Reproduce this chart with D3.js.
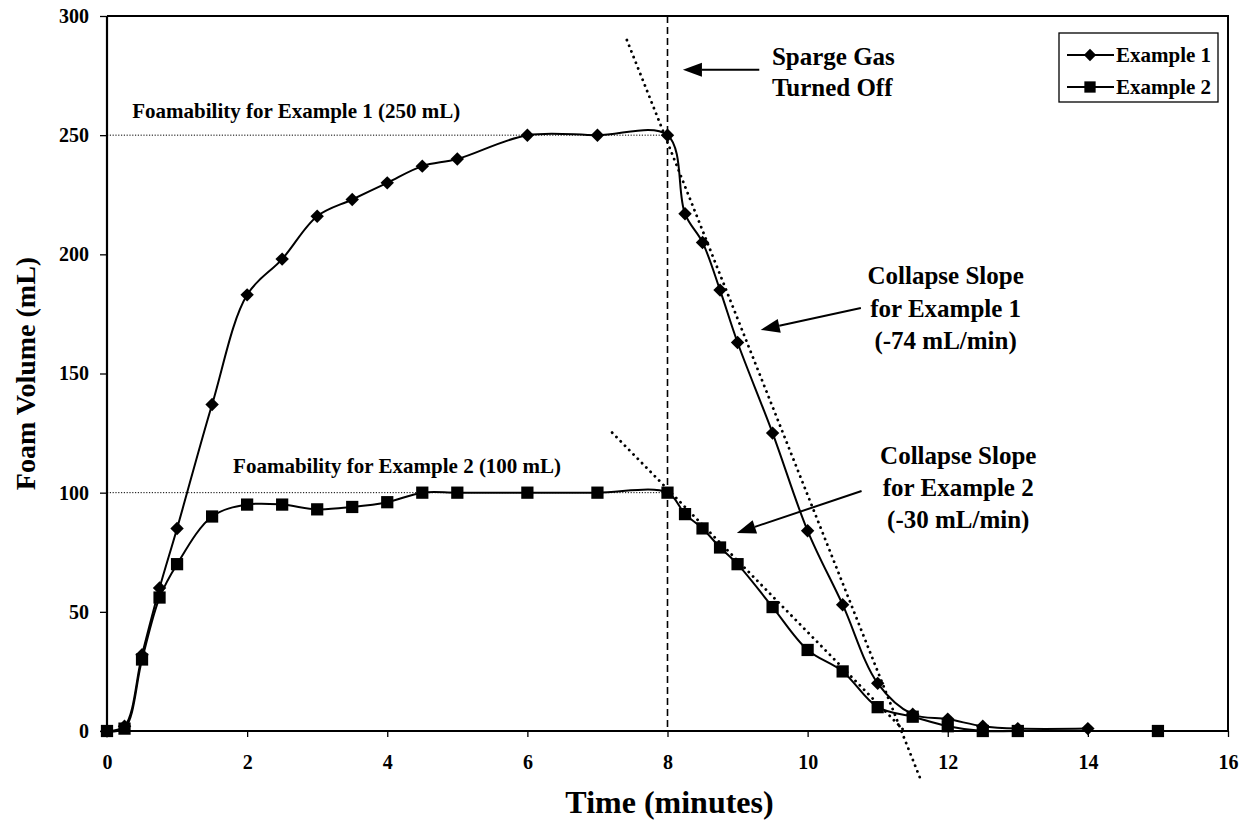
<!DOCTYPE html>
<html>
<head>
<meta charset="utf-8">
<script src="https://cdn.jsdelivr.net/npm/d3@7"></script>
<style>
  html, body { margin: 0; padding: 0; background: #fff; }
  svg { display: block; }
  text { font-family: "Liberation Serif", "Times New Roman", serif; font-weight: bold; fill: #000; }
</style>
</head>
<body>
<svg id="chart" width="1245" height="827"></svg>
<script>
// Foam volume measurements (minutes, mL)
const ex1Time   = [0, 0.25, 0.5, 0.75, 1, 1.5, 2, 2.5, 3, 3.5, 4, 4.5, 5, 6, 7, 8, 8.25, 8.5, 8.75, 9, 9.5, 10, 10.5, 11, 11.5, 12, 12.5, 13, 14];
const ex1Volume = [0, 2, 32, 60, 85, 137, 183, 198, 216, 223, 230, 237, 240, 250, 250, 250, 217, 205, 185, 163, 125, 84, 53, 20, 7, 5, 2, 1, 1];

const ex2Time   = [0, 0.25, 0.5, 0.75, 1, 1.5, 2, 2.5, 3, 3.5, 4, 4.5, 5, 6, 7, 8, 8.25, 8.5, 8.75, 9, 9.5, 10, 10.5, 11, 11.5, 12, 12.5, 13, 15];
const ex2Volume = [0, 1, 30, 56, 70, 90, 95, 95, 93, 94, 96, 100, 100, 100, 100, 100, 91, 85, 77, 70, 52, 34, 25, 10, 6, 2, 0, 0, 0];

const seriesNames = ["Example 1", "Example 2"];
const xTicks = [0, 2, 4, 6, 8, 10, 12, 14, 16];
const yTicks = [0, 50, 100, 150, 200, 250, 300];

// Reference values
const gasOffTime = 8;
const foamability = [250, 100];
const collapseSlope = [-74, -30];
const collapseAnchor = [247, 101.5];           // volume of each fitted line at t = 8
const collapseRange = [[7.42, 11.6], [7.21, 11.38]];

const svg = d3.select("#chart");
const W = 1245, H = 827;
const m = { left: 107, right: W - 1228, top: 16, bottom: H - 731 };

const x = d3.scaleLinear().domain([0, 16]).range([m.left, W - m.right]);
const y = d3.scaleLinear().domain([0, 300]).range([H - m.bottom, m.top]);

// frame (top and right borders)
svg.append("path")
  .attr("d", `M${x(0)},${y(300)}H${x(16)}V${y(0)}`)
  .attr("fill", "none").attr("stroke", "#000").attr("stroke-width", 2);

// axes
const yAxis = svg.append("g")
  .attr("transform", `translate(${x(0)},0)`)
  .call(d3.axisLeft(y).tickValues(yTicks).tickSize(7).tickPadding(11));
const xAxis = svg.append("g")
  .attr("transform", `translate(0,${y(0)})`)
  .call(d3.axisBottom(x).tickValues(xTicks).tickSize(6).tickPadding(18));
[yAxis, xAxis].forEach(g => {
  g.select(".domain").attr("stroke", "#000").attr("stroke-width", 2.2);
  g.selectAll(".tick line").attr("stroke", "#000").attr("stroke-width", 1.3);
  g.selectAll(".tick text")
    .style("font-family", '"Liberation Serif", "Times New Roman", serif')
    .style("font-weight", "bold").style("font-size", "20px").attr("fill", "#000");
});
xAxis.selectAll(".domain").attr("d", `M${x(0)},0H${x(16)}`);
yAxis.selectAll(".domain").attr("d", `M0,${y(0)}V${y(300)}`);

// axis titles
svg.append("text")
  .attr("transform", `translate(${x(8) + 2},${H - 14})`)
  .attr("text-anchor", "middle").style("font-size", "32px")
  .text("Time (minutes)");
svg.append("text")
  .attr("transform", `translate(35,${(y(0) + y(300)) / 2}) rotate(-90)`)
  .attr("text-anchor", "middle").style("font-size", "28px")
  .text("Foam Volume (mL)");

// foamability reference lines
foamability.forEach(v => {
  svg.append("line")
    .attr("x1", x(0)).attr("x2", x(gasOffTime))
    .attr("y1", y(v)).attr("y2", y(v))
    .attr("stroke", "#000").attr("stroke-width", 1)
    .attr("stroke-dasharray", "1.2,1.6");
});

// gas shut-off marker
svg.append("line")
  .attr("x1", x(gasOffTime)).attr("x2", x(gasOffTime))
  .attr("y1", y(300)).attr("y2", y(0))
  .attr("stroke", "#000").attr("stroke-width", 1.6)
  .attr("stroke-dasharray", "7,4");

// fitted collapse slopes
collapseSlope.forEach((s, i) => {
  const [t0, t1] = collapseRange[i];
  const f = t => collapseAnchor[i] + s * (t - gasOffTime);
  svg.append("line")
    .attr("x1", x(t0)).attr("y1", y(f(t0)))
    .attr("x2", x(t1)).attr("y2", y(f(t1)))
    .attr("stroke", "#000").attr("stroke-width", 2.8)
    .attr("stroke-linecap", "round")
    .attr("stroke-dasharray", "0.1,6");
});

// data series
const series = [
  { name: seriesNames[0], t: ex1Time, v: ex1Volume, shape: d3.symbolSquare, size: 90, rot: 45 },
  { name: seriesNames[1], t: ex2Time, v: ex2Volume, shape: d3.symbolSquare, size: 150, rot: 0 }
];
const line = d3.line().x(d => x(d[0])).y(d => y(d[1])).curve(d3.curveCatmullRom.alpha(0.5));

series.forEach(s => {
  const pts = s.t.map((t, i) => [t, s.v[i]]);
  svg.append("path").datum(pts)
    .attr("d", line)
    .attr("fill", "none").attr("stroke", "#000").attr("stroke-width", 2);
  svg.append("g").selectAll("path").data(pts).join("path")
    .attr("d", d3.symbol().type(s.shape).size(s.size))
    .attr("transform", d => `translate(${x(d[0])},${y(d[1])}) rotate(${s.rot})`)
    .attr("fill", "#000");
});

// annotations
function arrow(x1, y1, x2, y2) {
  const ang = Math.atan2(y2 - y1, x2 - x1);
  const len = 19, half = 7;
  const bx = x2 - len * Math.cos(ang), by = y2 - len * Math.sin(ang);
  svg.append("line").attr("x1", x1).attr("y1", y1).attr("x2", bx).attr("y2", by)
    .attr("stroke", "#000").attr("stroke-width", 2);
  svg.append("path")
    .attr("d", `M${x2},${y2}L${bx + half * Math.sin(ang)},${by - half * Math.cos(ang)}L${bx - half * Math.sin(ang)},${by + half * Math.cos(ang)}Z`)
    .attr("fill", "#000");
}
function label(lines, px, py, anchor, size, gap) {
  const t = svg.append("text").attr("text-anchor", anchor).style("font-size", size + "px");
  lines.forEach((s, i) => t.append("tspan").attr("x", px).attr("y", py + i * gap).text(s));
}

label(["Foamability for Example 1 (250 mL)"], x(0.36), y(foamability[0]) - 17, "start", 21, 0);
label(["Foamability for Example 2 (100 mL)"], x(1.8), y(foamability[1]) - 20, "start", 21, 0);

label(["Sparge Gas", "Turned Off"], x(9.49), 65, "start", 25, 31);
arrow(x(9.31), y(277.4), x(8.22), y(277.4));

label(["Collapse Slope", "for Example 1", `(${collapseSlope[0]} mL/min)`], x(11.97), 284, "middle", 25, 32.5);
arrow(x(10.76), y(177.5), x(9.33), y(168.3));

label(["Collapse Slope", "for Example 2", `(${collapseSlope[1]} mL/min)`], x(12.15), 464, "middle", 25, 32);
arrow(x(10.77), y(100.7), x(8.99), y(83.1));

// legend
const lg = svg.append("g").attr("transform", "translate(1059,33)");
lg.append("rect").attr("width", 159).attr("height", 69)
  .attr("fill", "#fff").attr("stroke", "#000").attr("stroke-width", 1.3);
series.forEach((s, i) => {
  const cy = 22 + i * 32;
  lg.append("line").attr("x1", 8).attr("x2", 55).attr("y1", cy).attr("y2", cy)
    .attr("stroke", "#000").attr("stroke-width", 2);
  lg.append("path").attr("d", d3.symbol().type(s.shape).size(s.size * 0.85))
    .attr("transform", `translate(31,${cy}) rotate(${s.rot})`).attr("fill", "#000");
  lg.append("text").attr("x", 57).attr("y", cy + 7).style("font-size", "21px").text(s.name);
});
</script>
</body>
</html>
